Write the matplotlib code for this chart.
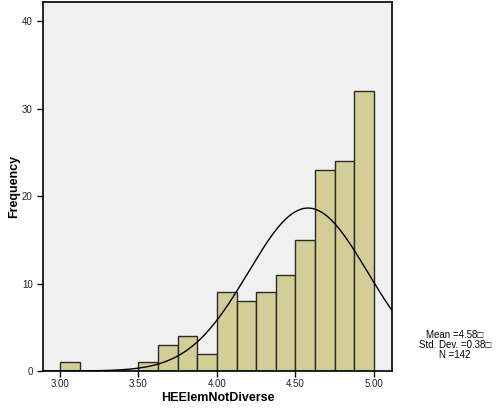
import numpy as np
import matplotlib
matplotlib.use('Agg')
from matplotlib import pyplot as plt

# histogram data (bin width 0.125)
bin_edges = [3.0, 3.125, 3.25, 3.375, 3.5, 3.625, 3.75, 3.875, 4.0,
             4.125, 4.25, 4.375, 4.5, 4.625, 4.75, 4.875, 5.0]
counts = [1, 0, 0, 0, 1, 3, 4, 2, 9, 8, 9, 11, 15, 23, 24, 32]
mean_val = 4.58
std_val = 0.38
n_total = 142
xticks = [3.0, 3.5, 4.0, 4.5, 5.0]
yticks = [0, 10, 20, 30, 40]

plt.rcParams['font.family'] = ['Liberation Sans', 'DejaVu Sans']

fig = plt.figure(figsize=(4.97, 4.11), dpi=100)
ax = fig.add_axes([43 / 497, 1 - 371 / 411, (392 - 43) / 497, (371 - 2) / 411])
ax.set_facecolor('#F0F0F0')

widths = np.diff(bin_edges)
ax.bar(bin_edges[:-1], counts, width=widths, align='edge',
       color='#D3CE97', edgecolor='#2a2a2a', linewidth=1.0, zorder=2)

# normal curve scaled to counts
xs = np.linspace(2.85, 5.2, 400)
scale = n_total * widths[0]
ys = scale / (std_val * np.sqrt(2 * np.pi)) * np.exp(-0.5 * ((xs - mean_val) / std_val) ** 2)
ax.plot(xs, ys, color='black', linewidth=1.0, zorder=3)

ax.set_xlim(2.892, 5.115)
ax.set_ylim(0, 42.2)
ax.set_xticks(xticks)
ax.set_xticklabels([f'{t:.2f}' for t in xticks])
ax.set_yticks(yticks)
ax.tick_params(axis='both', labelsize=7, length=4, width=1, direction='out',
               color='black', labelcolor='#222222')
ax.tick_params(axis='x', pad=2)
for sp in ax.spines.values():
    sp.set_linewidth(1.2)
    sp.set_color('black')

ax.set_xlabel('HEElemNotDiverse', fontsize=9, fontweight='bold', labelpad=2)
ax.set_ylabel('Frequency', fontsize=9, fontweight='bold', labelpad=1)

fig.text(455 / 497, 1 - 345 / 411,
         f'Mean ={mean_val:.2f}\u25a1\nStd. Dev. ={std_val:.2f}\u25a1\nN ={n_total}',
         ha='center', va='center', fontsize=7, linespacing=1.0)

fig.savefig('out.png', dpi=100)
